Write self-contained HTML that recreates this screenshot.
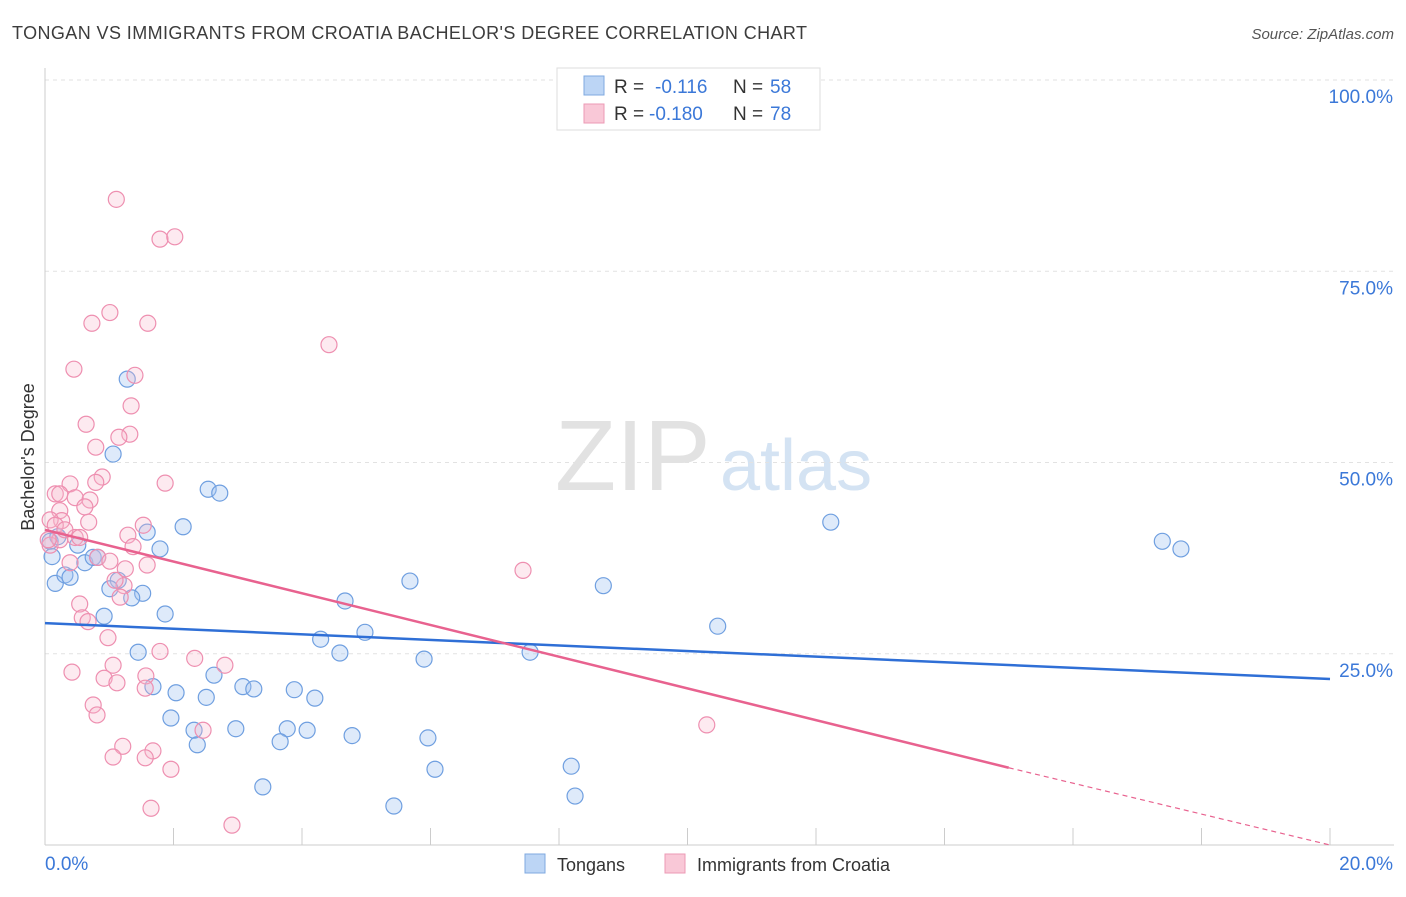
<!DOCTYPE html>
<html><head><meta charset="utf-8"><style>
body{margin:0;background:#fff;font-family:"Liberation Sans",sans-serif;}
svg text{font-family:"Liberation Sans",sans-serif;}
</style></head><body>
<svg id="chart" width="1406" height="892" xmlns="http://www.w3.org/2000/svg">
<text x="12" y="39" font-size="18" fill="#3c3c3c" textLength="795">TONGAN VS IMMIGRANTS FROM CROATIA BACHELOR'S DEGREE CORRELATION CHART</text>
<text x="1394" y="39" font-size="15" fill="#555" text-anchor="end" font-style="italic">Source: ZipAtlas.com</text>
<text x="555" y="490" font-size="100" fill="#e2e2e2" font-family="Liberation Serif">ZIP</text>
<text x="720" y="490" font-size="72" fill="#d4e3f3">atlas</text>
<g id="grid"></g><g id="axes"></g><g id="pts"></g><g id="lines"></g>
<text transform="translate(34,457) rotate(-90)" font-size="18" fill="#333" text-anchor="middle">Bachelor's Degree</text>
<g>
<rect x="557" y="68" width="263" height="62" fill="#fff" stroke="#ddd"/>
<rect x="584" y="76" width="20" height="19" fill="#bcd5f5" stroke="#7fa9e0"/>
<text x="614" y="93" font-size="19" fill="#333">R =</text>
<text x="655" y="93" font-size="19" fill="#3b78d8">-0.116</text>
<text x="733" y="93" font-size="19" fill="#333">N =</text>
<text x="770" y="93" font-size="19" fill="#3b78d8">58</text>
<rect x="584" y="104" width="20" height="19" fill="#f9c8d7" stroke="#ec9ab4"/>
<text x="614" y="120" font-size="19" fill="#333">R =</text>
<text x="649" y="120" font-size="19" fill="#3b78d8">-0.180</text>
<text x="733" y="120" font-size="19" fill="#333">N =</text>
<text x="770" y="120" font-size="19" fill="#3b78d8">78</text>
</g>
<g>
<rect x="525" y="854" width="20" height="19" fill="#bcd5f5" stroke="#7fa9e0"/>
<text x="557" y="871" font-size="18" fill="#333">Tongans</text>
<rect x="665" y="854" width="20" height="19" fill="#f9c8d7" stroke="#ec9ab4"/>
<text x="697" y="871" font-size="18" fill="#333">Immigrants from Croatia</text>
</g>
</svg>
<script>
const yTicks=[25,50,75,100];
const yTickLabels=["25.0%","50.0%","75.0%","100.0%"];
const xTickLabels=["0.0%","20.0%"];
const tonganX=[1.28,1.06,2.54,2.72,2.15,1.59,1.79,0.16,0.31,0.39,0.62,0.75,0.82,1.14,1.01,1.52,1.35,1.87,0.92,5.68,4.67,8.69,4.98,4.29,4.59,7.55,5.90,10.47,12.23,17.39,17.68,1.45,2.63,1.68,2.04,2.51,3.08,3.25,3.88,4.20,1.96,2.32,2.37,2.97,3.77,4.08,3.66,4.78,5.96,6.07,3.39,5.43,8.19,8.25,0.08,0.11,0.20,0.51];
const tonganY=[60.9,51.1,46.5,46.0,41.6,40.9,38.7,34.2,35.3,35.0,36.9,37.6,37.6,34.6,33.5,32.9,32.3,30.2,29.9,34.5,31.9,33.9,27.8,26.9,25.1,25.2,24.3,28.6,42.2,39.7,38.7,25.2,22.2,20.7,19.9,19.3,20.7,20.4,20.3,19.2,16.6,15.0,13.1,15.2,15.2,15.0,13.5,14.3,14.0,9.9,7.6,5.1,10.3,6.4,39.7,37.7,40.3,39.2];
const croatiaX=[1.11,1.79,2.02,1.01,0.73,1.60,4.42,0.45,1.40,1.34,0.64,1.32,1.15,0.79,0.89,0.79,1.87,0.39,0.16,0.23,0.47,0.70,0.62,0.23,0.26,0.68,1.53,1.29,0.08,0.47,0.54,0.23,0.82,0.39,1.01,1.59,1.25,1.37,1.23,1.09,0.54,1.17,0.58,0.67,0.98,7.44,1.79,2.33,2.80,1.06,0.42,0.92,1.12,1.57,1.56,0.75,0.81,2.46,10.30,1.21,1.68,1.06,1.56,1.96,1.65,2.91,0.08,0.16,0.31,0.05];
const croatiaY=[84.4,79.2,79.5,69.6,68.2,68.2,65.4,62.2,61.4,57.4,55.0,53.7,53.3,52.0,48.1,47.4,47.3,47.2,45.9,45.9,45.4,45.1,44.2,43.7,42.4,42.2,41.8,40.5,39.2,40.2,40.2,39.9,37.6,36.9,37.1,36.6,36.1,39.0,33.9,34.6,31.5,32.4,29.7,29.2,27.1,35.9,25.3,24.4,23.5,23.5,22.6,21.8,21.2,22.1,20.5,18.3,17.0,15.0,15.7,12.9,12.3,11.5,11.4,9.9,4.8,2.6,42.5,41.8,41.2,39.9];
const X=v=>45+v*64.25, Y=v=>845-v*7.65;
const NS="http://www.w3.org/2000/svg";
function mk(p,t,a){const e=document.createElementNS(NS,t);for(const k in a)e.setAttribute(k,a[k]);document.getElementById(p).appendChild(e);return e;}
yTicks.forEach((t,i)=>{
 const g=mk('grid','line',{x1:45,x2:1394,y1:Y(t),y2:Y(t),stroke:'#e2e2e2','stroke-dasharray':'4,4'});
 
 
 const l=mk('axes','text',{x:1393,y:Y(t)+23,'font-size':19,fill:'#3b78d8','text-anchor':'end'});l.textContent=yTickLabels[i];
 
 
});
mk('axes','line',{x1:45,x2:45,y1:68,y2:845,stroke:'#ccc'});
mk('axes','line',{x1:45,x2:1394,y1:845,y2:845,stroke:'#ccc'});
for(let i=0;i<=10;i++){mk('axes','line',{x1:X(i*2),x2:X(i*2),y1:828,y2:845,stroke:'#ccc'});}
let xl=mk('axes','text',{x:45,y:870,'font-size':19,fill:'#3b78d8'});xl.textContent=xTickLabels[0];


xl=mk('axes','text',{x:1393,y:870,'font-size':19,fill:'#3b78d8','text-anchor':'end'});xl.textContent=xTickLabels[1];


tonganX.forEach((x,i)=>{const c=mk('pts','circle',{cx:X(x),cy:Y(tonganY[i]),r:8,fill:'rgba(160,195,240,0.35)',stroke:'#6f9fe0','stroke-width':1.2});
 
 });
croatiaX.forEach((x,i)=>{const c=mk('pts','circle',{cx:X(x),cy:Y(croatiaY[i]),r:8,fill:'rgba(248,185,205,0.3)',stroke:'#ee8fb0','stroke-width':1.2});
 
 });
let t=mk('lines','line',{x1:X(0),y1:Y(29),x2:X(20),y2:Y(21.7),stroke:'#2f6fd6','stroke-width':2.5});


t=mk('lines','line',{x1:X(0),y1:Y(41.2),x2:X(15),y2:Y(10.1),stroke:'#e8628f','stroke-width':2.5});


t=mk('lines','line',{x1:X(15),y1:Y(10.1),x2:X(20),y2:Y(0),stroke:'#e8628f','stroke-width':1.2,'stroke-dasharray':'5,4'});


</script>
</body></html>
